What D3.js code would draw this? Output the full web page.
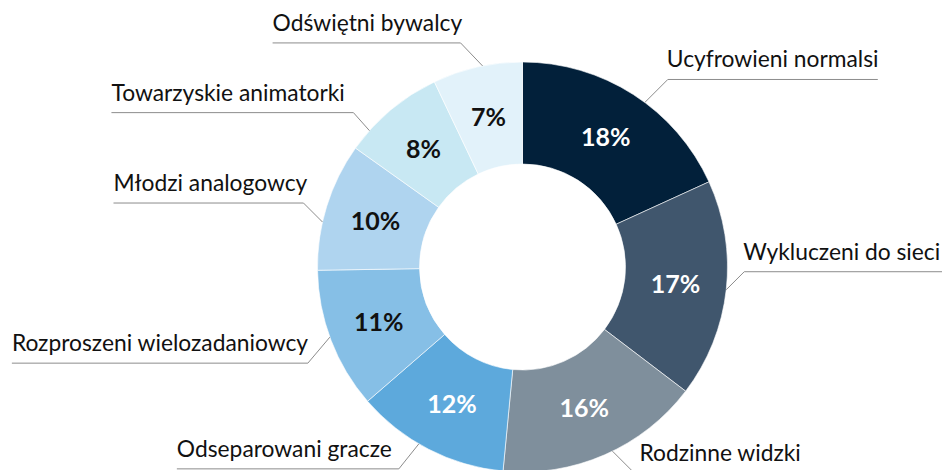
<!DOCTYPE html>
<html><head><meta charset="utf-8">
<script src="https://cdn.jsdelivr.net/npm/d3@7"></script>
<style>html,body{margin:0;padding:0;background:#fff;}svg{display:block;}</style>
</head><body>
<svg id="chart" width="942" height="470"></svg>
<script>
// ---- data ----
const categories = ["Ucyfrowieni normalsi","Wykluczeni do sieci","Rodzinne widzki","Odseparowani gracze","Rozproszeni wielozadaniowcy","Młodzi analogowcy","Towarzyskie animatorki","Odświętni bywalcy"];
const values = [18,17,16,12,11,10,8,7];
const valueLabels = ["18%","17%","16%","12%","11%","10%","8%","7%"];

// ---- styling / layout (not data) ----
const colors = ["#02203a","#40566d","#7f8f9c","#5da9dc","#86bfe6","#afd4ef","#c8e8f3","#e2f2fa"];
const textColors = ["#fff","#fff","#fff","#fff","#111","#111","#111","#111"];
// leader attach angle offset (deg, relative to slice mid), elbow offset from attach point, text side, underline length, text x nudge
const labelLayout = [
  {da: 3.9, ex: 23, ey: -23, side: "right", len: 210, tdx: -1},
  {da: 0, ex: 18, ey: -18, side: "right", len: 200, tdx: -1},
  {da: -2.4, ex: 22, ey: 22, side: "right", len: 170, tdx: 5},
  {da: 3.1, ex: -20, ey: 25, side: "left", len: 222, tdx: 0},
  {da: 0.9, ex: -22, ey: 26, side: "left", len: 296, tdx: 0},
  {da: -4.6, ex: -19, ey: -19, side: "left", len: 190, tdx: 0},
  {da: -8.3, ex: -16, ey: -18, side: "left", len: 242, tdx: 0},
  {da: 1.5, ex: -22, ey: -23, side: "left", len: 188, tdx: 0}
];

const cx = 522.5, cy = 267, R = 205, r0 = 103;
const svg = d3.select("#chart");
const g = svg.append("g").attr("transform", `translate(${cx},${cy})`);

const pie = d3.pie().sort(null).value(d => d)(values);
const arc = d3.arc().innerRadius(r0).outerRadius(R);

g.selectAll("path.slice").data(pie).join("path")
  .attr("class","slice")
  .attr("d", arc)
  .attr("fill", (d,i) => colors[i])
  .attr("stroke", "#fff").attr("stroke-width", 0.6);

g.selectAll("text.val").data(pie).join("text")
  .attr("class","val")
  .attr("transform", d => `translate(${arc.centroid(d)})`)
  .attr("text-anchor","middle").attr("dy","0.36em")
  .attr("font-family","Lato, sans-serif").attr("font-weight","bold")
  .attr("font-size", 25)
  .attr("fill", (d,i) => textColors[i])
  .text((d,i) => valueLabels[i]);

// leaders + category labels
pie.forEach((d,i) => {
  const L = labelLayout[i];
  const a = (d.startAngle + d.endAngle)/2 + L.da*Math.PI/180;
  const px = R*Math.sin(a), py = -R*Math.cos(a);
  const ex = px + L.ex, ey = py + L.ey;
  const x2 = L.side === "right" ? ex + L.len : ex - L.len;
  g.append("polyline")
    .attr("points", `${px},${py} ${ex},${ey} ${x2},${ey}`)
    .attr("fill","none").attr("stroke","#8c8c8c").attr("stroke-width",1);
  g.append("text")
    .attr("x", (L.side === "right" ? ex : x2) + L.tdx)
    .attr("y", ey - 12)
    .attr("font-family","Lato, sans-serif").attr("font-size", 22.8)
    .attr("fill","#111")
    .text(categories[i]);
});
</script>
</body></html>
